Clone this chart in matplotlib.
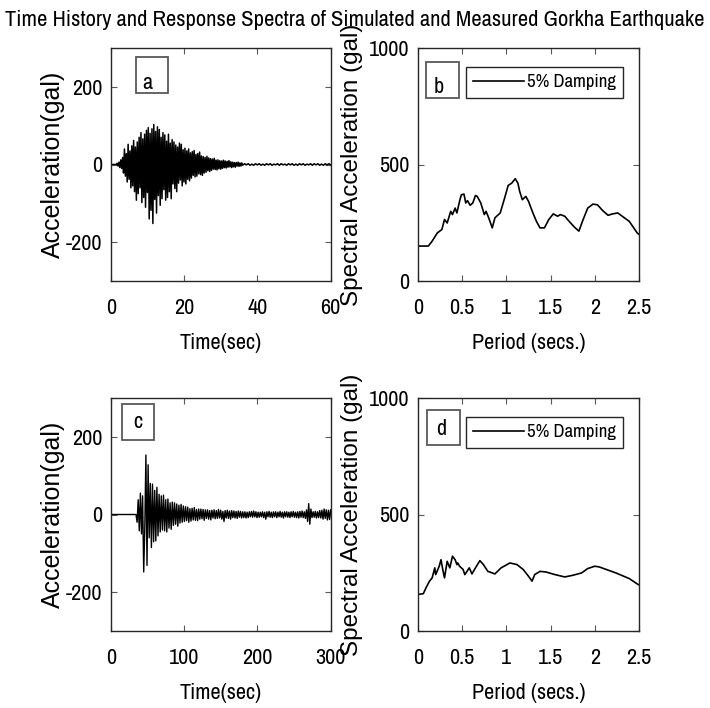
import numpy as np
import matplotlib as mpl
mpl.use("Agg")
import matplotlib.pyplot as plt
from matplotlib import font_manager
from matplotlib.patches import Rectangle

# ---------------- data ----------------
# simulated record (panel a), gal
a_quiet_time = [0.0, 1.25]
a_quiet = [0, 0]
a_t0, a_dt = 1.5, 0.25
acc_a = [0, 3, -4, 6, -8, 12, -10, 18,
         -22, 40, -30, 28, -45, 52, -38, 35,
         -60, 48, -55, 62, -70, 45, -92, 58,
         -75, 70, -60, 82, -98, 66, -85, 78,
         -110, 88, -72, 95, -140, 80, -118, 92,
         -152, 103, -90, 85, -125, 97, -80, 90,
         -105, 70, -88, 82, -65, 76, -92, 60,
         -85, 78, -70, 55, -88, 64, -50, 58,
         -62, 50, -70, 45, -48, 55, -40, 52,
         -55, 38, -45, 42, -50, 35, -38, 40,
         -42, 30, -35, 33, -28, 36, -32, 26,
         -30, 28, -24, 32, -26, 22, -28, 20,
         -22, 18, -20, 21, -16, 17, -18, 15,
         -15, 14, -12, 16, -13, 11, -14, 12,
         -11, 10, -12, 9, -10, 11, -8, 9,
         -9, 8, -7, 10, -6, 7, -8, 6,
         -6, 5, -7, 5, -4, 6, -5, 4,
         -4, 4]
a_tail_t0, a_tail_dt = 36.0, 0.5
acc_a_tail = [-2, 2, -1, 2, -2, 1, -2, 2, -1, 2,
              -2, 1, -2, 2, -1, 2, -2, 1, -1, 2,
              -2, 2, -1, 1, -2, 2, -1, 2, -2, 1,
              -2, 2, -1, 2, -2, 1, -1, 2, -2, 2,
              -1, 2, -2, 1, -2, 2, -1, 2, -1]

# measured record (panel c), gal
c_quiet_time = [0.0, 34.5]
c_quiet = [0, 0]
c_t0, c_dt = 36.0, 1.5
acc_c = [-20, 38, -42, 55, -50, 48, -148, -35,
         153, -131, 128, -60, 80, -85, 78, -70,
         62, -68, 70, -55, 52, -45, 48, -40,
         50, -42, 38, -45, 40, -35, 30, -38,
         32, -28, 30, -25, 27, -30, 24, -22,
         26, -20, 22, -18, 20, -16, 19, -20,
         15, -17, 16, -14, 18, -15, 13, -16,
         14, -12, 14, -11, 13, -15, 12, -10,
         12, -12, 10, -14, 11, -9, 12, -11,
         10, -10, 13, -9, 11, -12, 8, -18,
         10, -9, 11, -10, 9, -12, 10, -8,
         9, -9, 8, -10, 9, -7, 8, -9,
         7, -8, 7, -9, 6, -8, 7, -6,
         8, -7, 9, -6, 7, -8, 6, -7,
         6, -6, 7, -8, 6, -12, 7, -6,
         8, -7, 6, -8, 7, -6, 7, -8,
         6, -6, 8, -7, 6, -9, 7, -6,
         7, -7, 6, -8, 7, -6, 8, -7,
         6, -8, 7, -9, 8, -7, 9, -8,
         7, -10, 12, -18, 28, -25, 14, -8,
         7, -7, 8, -9, 7, -8, 10, -9,
         11, -12, 14, -10, 12, -14, 11, -13,
         12]

# response spectra, 5% damping
b_period = [0, 0.117, 0.16, 0.218, 0.27, 0.30, 0.33, 0.37, 0.39, 0.42,
            0.44, 0.47, 0.49, 0.52, 0.54, 0.56, 0.59, 0.62, 0.65, 0.67,
            0.71, 0.75, 0.77, 0.80, 0.84, 0.87, 0.93, 0.98, 1.02, 1.06,
            1.10, 1.13, 1.15, 1.18, 1.22, 1.25, 1.30, 1.34, 1.38, 1.43,
            1.48, 1.53, 1.58, 1.61, 1.66, 1.71, 1.77, 1.82, 1.86, 1.92,
            1.98, 2.03, 2.09, 2.15, 2.20, 2.26, 2.31, 2.39, 2.48, 2.5]
b_sa = [150, 150, 171, 206, 221, 264, 249, 299, 285, 313,
        292, 342, 370, 373, 335, 345, 325, 335, 367, 363,
        335, 285, 299, 271, 228, 271, 292, 356, 410, 420,
        439, 420, 385, 349, 363, 342, 292, 256, 228, 228,
        264, 288, 278, 285, 278, 256, 231, 214, 256, 313,
        330, 327, 302, 282, 288, 292, 278, 256, 206, 200]
d_period = [0, 0.06, 0.09, 0.13, 0.16, 0.19, 0.20, 0.24, 0.26, 0.28,
            0.30, 0.33, 0.36, 0.39, 0.42, 0.44, 0.45, 0.47, 0.51, 0.53,
            0.58, 0.61, 0.65, 0.70, 0.74, 0.79, 0.87, 0.94, 1.04, 1.12,
            1.19, 1.25, 1.29, 1.32, 1.38, 1.45, 1.55, 1.66, 1.75, 1.85,
            1.92, 2.00, 2.05, 2.13, 2.24, 2.39, 2.48, 2.5]
d_sa = [157, 160, 185, 214, 228, 271, 242, 278, 306, 264,
        228, 299, 271, 321, 306, 285, 292, 278, 264, 242,
        271, 245, 271, 302, 285, 256, 245, 271, 292, 285,
        264, 235, 214, 242, 256, 253, 242, 232, 239, 249,
        268, 278, 275, 264, 249, 225, 202, 198]

acc_ticks = [-200, 0, 200]
sa_ticks = [0, 500, 1000]
period_ticks = [0, 0.5, 1, 1.5, 2, 2.5]
period_tick_labels = ["0", "0.5", "1", "1.5", "2", "2.5"]
panel_names = ["a", "b", "c", "d"]
title = "Time History and Response Spectra of Simulated and Measured Gorkha Earthquake"

# ---------------- fonts ----------------
installed = set(f.name for f in font_manager.fontManager.ttflist)


def pick(cands):
    for c in cands:
        if c in installed:
            return c
    return "DejaVu Sans"


narrow_font = pick(["Liberation Sans Narrow", "Arial Narrow", "Nimbus Sans Narrow",
                    "Archivo Narrow", "PT Sans Narrow", "Roboto Condensed",
                    "Sofia Sans Semi Condensed", "Fira Sans Condensed"])
wide_font = pick(["Liberation Sans", "Arimo", "Arial", "Nimbus Sans", "Roboto"])
narrow = [narrow_font, "DejaVu Sans"]
wide = [wide_font, "DejaVu Sans"]

plt.rcParams["axes.unicode_minus"] = False
plt.rcParams["font.family"] = narrow
plt.rcParams["font.size"] = 16

W, H = 710, 708
fig = plt.figure(figsize=(W / 100, H / 100), dpi=100)


def box(l, t, r, b):
    return [l / W, 1 - b / H, (r - l) / W, (b - t) / H]


ax_a = fig.add_axes(box(110.7, 48, 330.7, 281))
ax_b = fig.add_axes(box(418, 48, 639, 281))
ax_c = fig.add_axes(box(110.7, 398, 330.7, 631))
ax_d = fig.add_axes(box(418, 398, 639, 631))


def setUpAxes(ax):
    ax.tick_params(direction="in", top=True, right=True, length=4, width=0.8,
                   color="0.35", labelsize=16)
    ax.tick_params(axis="x", pad=12)
    ax.tick_params(axis="y", pad=6)
    for s in ax.spines.values():
        s.set_linewidth(1.0)
        s.set_color("0.15")


def panelLabel(ax, name, rect, tx, ty):
    ax.add_patch(Rectangle((rect[0], rect[1]), rect[2], rect[3], transform=ax.transAxes,
                           fill=True, fc="white", ec="0.35", lw=1.3, zorder=5))
    ax.text(tx, ty, name, transform=ax.transAxes, ha="center", va="baseline",
            fontsize=16, zorder=6)


def timeAxes(ax, xmax, xticks):
    setUpAxes(ax)
    ax.set_xlim(0, xmax)
    ax.set_ylim(-300, 300)
    ax.set_xticks(xticks)
    ax.set_yticks(acc_ticks)
    ax.set_xlabel("Time(sec)", fontsize=16)
    ax.xaxis.label.set_va("center")
    ax.xaxis.set_label_coords(0.5, -0.268)
    ax.set_ylabel("Acceleration(gal)", family=wide, fontsize=18)
    ax.yaxis.label.set_va("center")
    ax.yaxis.set_label_coords(-0.262, 0.5)


def spectraAxes(ax):
    setUpAxes(ax)
    ax.set_xlim(0, 2.5)
    ax.set_ylim(0, 1000)
    ax.set_xticks(period_ticks, period_tick_labels)
    ax.set_yticks(sa_ticks)
    ax.set_xlabel("Period (secs.)", fontsize=16)
    ax.xaxis.label.set_va("center")
    ax.xaxis.set_label_coords(0.5, -0.268)
    ax.set_ylabel("Spectral Acceleration (gal)", family=wide, fontsize=17.5)
    ax.yaxis.label.set_va("center")
    ax.yaxis.set_label_coords(-0.298, 0.5)
    ax.legend(loc="upper right", bbox_to_anchor=(0.928, 0.92), frameon=True,
              fancybox=False, edgecolor="0.15", framealpha=1, fontsize=13.5,
              borderpad=0.4, handlelength=2.7, handletextpad=0.15, borderaxespad=0)
    ax.get_legend().get_frame().set_linewidth(1.0)


# panel a
t_a = a_t0 + a_dt * np.arange(len(acc_a))
t_a_tail = a_tail_t0 + a_tail_dt * np.arange(len(acc_a_tail))
ax_a.plot(np.concatenate([a_quiet_time, t_a, t_a_tail]),
          np.concatenate([a_quiet, acc_a, acc_a_tail]), color="k", lw=1.1)
timeAxes(ax_a, 60, [0, 20, 40, 60])
panelLabel(ax_a, panel_names[0], (0.115, 0.807, 0.145, 0.155), 0.168, 0.822)

# panel c
t_c = c_t0 + c_dt * np.arange(len(acc_c))
ax_c.plot(np.concatenate([c_quiet_time, t_c]),
          np.concatenate([c_quiet, acc_c]), color="k", lw=1.0)
timeAxes(ax_c, 300, [0, 100, 200, 300])
panelLabel(ax_c, panel_names[2], (0.05, 0.820, 0.147, 0.155), 0.123, 0.870)

# panel b
ax_b.plot(b_period, b_sa, color="k", lw=1.2, label="5% Damping")
spectraAxes(ax_b)
panelLabel(ax_b, panel_names[1], (0.035, 0.785, 0.151, 0.155), 0.092, 0.806)

# panel d
ax_d.plot(d_period, d_sa, color="k", lw=1.2, label="5% Damping")
spectraAxes(ax_d)
panelLabel(ax_d, panel_names[3], (0.039, 0.798, 0.151, 0.150), 0.107, 0.841)

ttl = fig.text(0.5, 1 - 20 / H, title, ha="center", va="center", fontsize=16)

# fit the title to the width it has in the reference (~700 px)
fig.canvas.draw()
w = ttl.get_window_extent().width
if w > 0:
    ttl.set_fontsize(min(20, 16 * 700 / w))

fig.savefig("out.png", dpi=100)
